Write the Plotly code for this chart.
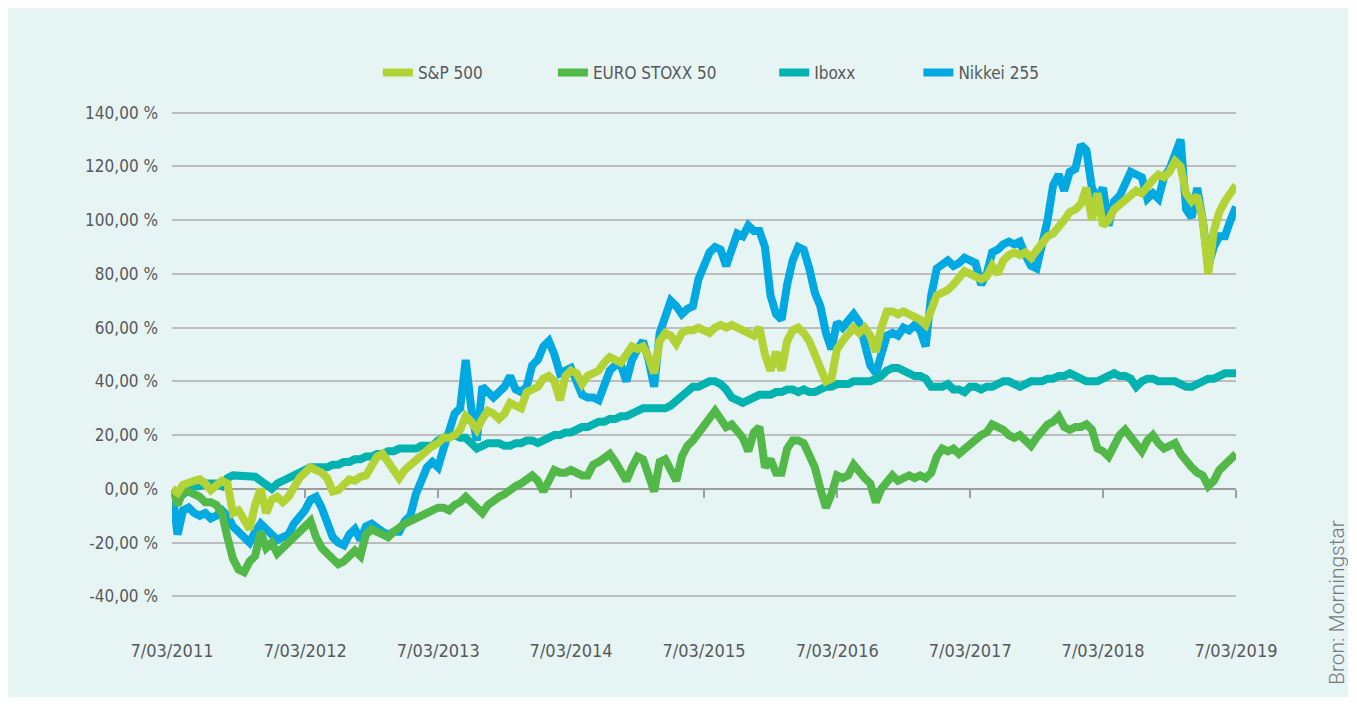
import pandas as pd
import plotly.graph_objects as go

# ---- data (cumulative return, %) ----
start_date = "2011-03-07"
end_date = "2019-03-07"
n_points = 193  # semi-monthly readings

sp500 = [
    0, -1.5, 1.5, 2.5, 3, 3.5, 2, -0.5, 1, 3,
    2, -9, -8, -12, -15, -6, 0, -9, -4, -3,
    -5, -3, 1, 4, 6, 8, 7, 6, 4, -1,
    -0.5, 2, 3.5, 3, 4.5, 5, 8, 12, 13, 10,
    8, 4, 7, 9, 11, 13, 14, 16, 17, 19,
    19, 20, 22, 27, 25, 22, 26, 29, 28, 26,
    28, 32, 31, 30, 36, 37, 38, 41, 42, 40,
    33, 42, 44, 43, 39, 42, 43, 44, 47, 49,
    48, 47, 50, 53, 52, 53, 49, 43, 55, 58,
    57, 54, 58, 59, 59, 60, 59, 58, 60, 61,
    60, 61, 60, 59, 58, 57, 60, 50, 44, 51,
    44, 55, 59, 60, 58, 55, 50, 44, 40, 41,
    52, 55, 57, 60, 58, 60, 57, 51, 60, 66,
    66, 65, 66, 65, 64, 63, 61, 66, 72, 73,
    74, 76, 78, 81, 80, 79, 78, 79, 83, 80,
    85, 87, 88, 87, 88, 86, 89, 91, 94, 95,
    97, 100, 103, 104, 106, 112, 100, 110, 98, 100,
    104, 106, 107, 109, 111, 110, 113, 115, 117, 116,
    118, 122, 120, 110, 107, 109, 100, 80, 96, 103,
    107, 110, 113,
]

nikkei = [
    0, -17, -8, -7, -9, -10, -9, -11, -10, -8,
    -10, -14, -16, -18, -20, -16, -13, -15, -17, -19,
    -18, -17, -13, -11, -8, -4, -3, -7, -13, -18,
    -20, -21, -17, -15, -19, -14, -13, -15, -16, -17,
    -16, -16, -12, -10, -2, 3, 8, 10, 8, 15,
    21, 28, 30, 48, 30, 18, 38, 36, 34, 36,
    38, 42, 37, 36, 38, 46, 48, 53, 55, 50,
    43, 44, 45, 40, 35, 34, 34, 33, 38, 44,
    46, 46, 40, 48, 52, 55, 48, 38, 58, 64,
    70, 68, 65, 67, 68, 78, 84, 88, 90, 89,
    83, 90, 95, 94, 98, 96, 96, 90, 72, 65,
    63, 76, 85, 90, 89, 82, 73, 68, 58, 52,
    62, 60, 63, 65, 62, 55, 46, 43, 50, 57,
    58, 57, 60, 59, 61, 59, 53, 72, 82, 84,
    85, 83, 84, 86, 85, 84, 76, 80, 88, 89,
    91, 92, 91, 92, 87, 83, 82, 90, 100, 113,
    117, 111, 118, 119, 128, 126, 112, 108, 112, 98,
    107, 109, 114, 118, 117, 116, 108, 110, 108, 116,
    119, 124, 130, 104, 101, 112, 100, 83, 90, 94,
    94, 100, 105,
]

iboxx = [
    0, -3, -2, 0, 1, 1, 2, 2, 2, 1,
    4, 5, 5, 5, 5, 4.5, 3, 1, 0, 2,
    3, 4, 5, 6, 7, 8, 8, 8, 8, 9,
    9, 10, 10, 11, 11, 12, 12, 13, 13, 14,
    14, 15, 15, 15, 15, 16, 16, 16, 18, 19,
    20, 20, 19, 19, 17, 15, 16, 17, 17, 17,
    16, 16, 17, 17, 18, 18, 17, 18, 19, 20,
    20, 21, 21, 22, 23, 23, 24, 25, 25, 26,
    26, 27, 27, 28, 29, 30, 30, 30, 30, 30,
    31, 33, 34, 36, 38, 38, 39, 40, 40, 39,
    37, 34, 33, 32, 33, 34, 35, 35, 35, 36,
    36, 37, 37, 36, 37, 36, 36, 37, 38, 38,
    39, 39, 39, 40, 40, 40, 40, 41, 42, 44,
    45, 45, 44, 43, 42, 42, 41, 38, 38, 38,
    39, 37, 37, 36, 38, 38, 37, 38, 38, 39,
    40, 40, 39, 38, 39, 40, 40, 40, 41, 41,
    42, 42, 43, 42, 41, 40, 40, 40, 41, 42,
    43, 42, 42, 41, 38, 40, 41, 41, 40, 40,
    40, 40, 39, 38, 38, 39, 40, 41, 41, 42,
    43, 43, 43,
]

eurostoxx = [
    0, -6, -1, -1, -2, -3, -5, -5, -6, -9,
    -18, -26, -30, -31, -27, -25, -16, -22, -20, -24,
    -22, -20, -18, -17, -14, -12, -18, -22, -24, -26,
    -28, -27, -25, -23, -25, -17, -15, -16, -17, -18,
    -16, -14, -13, -12, -11, -10, -9, -8, -7, -7,
    -8, -6, -5, -3, -5, -8, -9, -6, -4, -3,
    -2, 0, 1, 2, 4, 5, 3, -1, 3, 7,
    6, 6, 7, 6, 5, 5, 9, 10, 12, 13,
    10, 6, 3, 8, 12, 11, 5, -1, 10, 11,
    7, 3, 12, 16, 18, 21, 23, 27, 29, 26,
    23, 24, 21, 19, 14, 21, 23, 8, 11, 6,
    6, 15, 18, 18, 17, 12, 8, 0, -7, -2,
    5, 4, 5, 9, 6, 4, 2, -5, 0, 3,
    5, 3, 4, 5, 4, 5, 4, 6, 12, 15,
    14, 15, 13, 15, 17, 18, 20, 21, 24, 23,
    22, 20, 19, 20, 18, 16, 19, 22, 24, 25,
    27, 23, 22, 23, 23, 24, 22, 15, 14, 12,
    16, 20, 22, 19, 16, 14, 18, 20, 17, 15,
    16, 17, 13, 10, 8, 6, 5, 1, 3, 7,
    9, 11, 13,
]

tick_dates = ["2011-03-07", "2012-03-07", "2013-03-07", "2014-03-07", "2015-03-07",
              "2016-03-07", "2017-03-07", "2018-03-07", "2019-03-07"]
tick_date_labels = ["7/03/2011", "7/03/2012", "7/03/2013", "7/03/2014", "7/03/2015",
                    "7/03/2016", "7/03/2017", "7/03/2018", "7/03/2019"]
y_ticks = [-40, -20, 0, 20, 40, 60, 80, 100, 120, 140]
y_tick_labels = ["-40,00 %", "-20,00 %", "0,00 %", "20,00 %", "40,00 %",
                 "60,00 %", "80,00 %", "100,00 %", "120,00 %", "140,00 %"]

dates = pd.date_range(start_date, end_date, periods=n_points)

# ---- styling ----
BG = "#e7f4f4"
TXT = "#58595b"
FONT = "Liberation Sans Narrow, Arial Narrow, DejaVu Sans Condensed, Roboto, sans-serif"
Y_MIN, Y_MAX = -41, 141

series = [
    ("Nikkei 255", nikkei, "#00a9e2", "legend4"),
    ("Iboxx", iboxx, "#00b3b1", "legend3"),
    ("EURO STOXX 50", eurostoxx, "#52b848", "legend2"),
    ("S&P 500", sp500, "#b3d236", "legend"),
]

fig = go.Figure()
for name, vals, color, leg in series:
    fig.add_trace(go.Scatter(
        x=dates, y=vals, name=name, mode="lines",
        line=dict(color=color, width=8),
        legend=leg, showlegend=True,
    ))

leg_common = dict(orientation="h", yanchor="middle", xanchor="left",
                  bgcolor="rgba(0,0,0,0)", font=dict(family=FONT, size=17, color=TXT))
leg_y = 1.0757
fig.update_layout(
    width=1340, height=689,
    margin=dict(l=164, r=112, t=102, b=98),
    paper_bgcolor=BG, plot_bgcolor=BG,
    showlegend=True,
    font=dict(family=FONT, size=17, color=TXT),
    legend=dict(x=0.1935, y=leg_y, **leg_common),
    legend2=dict(x=0.358, y=leg_y, **leg_common),
    legend3=dict(x=0.566, y=leg_y, **leg_common),
    legend4=dict(x=0.7015, y=leg_y, **leg_common),
    xaxis=dict(
        type="date", range=[start_date, end_date],
        tickvals=tick_dates, ticktext=tick_date_labels,
        showgrid=False, zeroline=False,
        showline=True, linecolor="#9d9d9d", linewidth=2,
        ticks="outside", ticklen=8, tickwidth=2, tickcolor="#9d9d9d",
        anchor="free", position=(0 - Y_MIN) / (Y_MAX - Y_MIN),
        ticklabelstandoff=138, layer="below traces",
        tickfont=dict(family=FONT, size=18, color=TXT),
    ),
    yaxis=dict(
        range=[Y_MIN, Y_MAX], tickvals=y_ticks, ticktext=y_tick_labels,
        showgrid=True, gridcolor="#bdbdbd", gridwidth=2,
        zeroline=False, showline=False, ticks="",
        ticklabelstandoff=13,
        tickfont=dict(family=FONT, size=17, color=TXT),
    ),
    annotations=[dict(
        text="Bron: Morningstar", textangle=-90, showarrow=False,
        xref="paper", yref="paper", x=1.095, y=-0.008,
        xanchor="center", yanchor="middle",
        font=dict(family="Roboto, sans-serif", size=21, color="#77787b", weight=300),
    )],
)

fig.write_html("out.html")
